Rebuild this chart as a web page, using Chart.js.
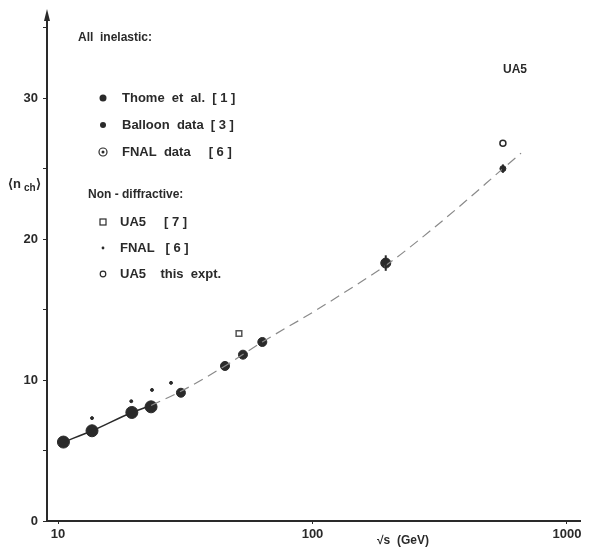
<!DOCTYPE html>
<html>
<head>
<meta charset="utf-8">
<script src="https://cdn.jsdelivr.net/npm/chart.js@4.4.0/dist/chart.umd.min.js"></script>
<style>
  html, body { margin: 0; padding: 0; background: #fff; }
  #wrap { width: 594px; height: 548px; position: relative; }
</style>
</head>
<body>
<div id="wrap"><canvas id="multChart" width="594" height="548"></canvas></div>
<script>
// sqrt(s) in GeV and mean charged multiplicity <n_ch>
const fnalEnergy = [10.5, 13.6, 19.5, 23.2];
const fnalMult = [5.6, 6.4, 7.7, 8.1];

const thomeEnergy = [30.4, 45.3, 53.3, 63.5];
const thomeMult = [9.1, 11.0, 11.8, 12.7];

const balloonEnergy = [194, 560];
const balloonMult = [18.3, 25.0];
const balloonErr = [0.55, 0.3];

const ua5IsrEnergy = [51.4];
const ua5IsrMult = [13.3];

const fnalNdEnergy = [13.6, 19.4, 23.4, 27.8];
const fnalNdMult = [7.3, 8.5, 9.3, 9.8];

const ua5Energy = [560];
const ua5Mult = [26.8];

// fitted curve
const fitSolidEnergy = [10.5, 13.6, 19.5, 23.2];
const fitSolidMult = [5.6, 6.4, 7.7, 8.2];
const fitDashEnergy = [23.2, 30.4, 45.3, 63.5, 100, 150, 200, 300, 400, 560, 660];
const fitDashMult = [8.2, 9.2, 11.0, 12.7, 14.8, 16.8, 18.3, 20.8, 22.7, 25.0, 26.1];

const xTickValues = [10, 100, 1000];
const yTickValues = [0, 10, 20, 30];

const ink = '#2a2a2a';
const font = '"Liberation Sans", Arial, sans-serif';

function pts(xs, ys) {
  return xs.map((x, i) => ({ x: x, y: ys[i] }));
}

const annotate = {
  id: 'annotate',
  afterDatasetsDraw(chart) {
    const ctx = chart.ctx;
    const xs = chart.scales.x, ys = chart.scales.y;
    ctx.save();

    // error bars
    ctx.strokeStyle = ink;
    ctx.lineWidth = 2;
    balloonEnergy.forEach((e, i) => {
      const px = xs.getPixelForValue(e);
      ctx.beginPath();
      ctx.moveTo(px, ys.getPixelForValue(balloonMult[i] - balloonErr[i]));
      ctx.lineTo(px, ys.getPixelForValue(balloonMult[i] + balloonErr[i]));
      ctx.stroke();
    });

    // arrow tip on y axis
    const ax = chart.chartArea.left;
    ctx.fillStyle = ink;
    ctx.beginPath();
    ctx.moveTo(ax, chart.chartArea.top - 6);
    ctx.lineTo(ax - 3, chart.chartArea.top + 6);
    ctx.lineTo(ax + 3, chart.chartArea.top + 6);
    ctx.closePath();
    ctx.fill();

    ctx.fillStyle = ink;
    ctx.textBaseline = 'middle';
    ctx.font = 'bold 12px ' + font;

    ctx.fillText('All  inelastic:', 78, 38);
    ctx.fillText('Non - diffractive:', 88, 195);
    ctx.fillText('UA5', 503, 70);

    ctx.font = 'bold 13px ' + font;
    ctx.fillText('Thome  et  al.  [ 1 ]', 122, 98);
    ctx.fillText('Balloon  data  [ 3 ]', 122, 125);
    ctx.fillText('FNAL  data     [ 6 ]', 122, 152);
    ctx.fillText('UA5     [ 7 ]', 120, 222);
    ctx.fillText('FNAL   [ 6 ]', 120, 248);
    ctx.fillText('UA5    this  expt.', 120, 274);

    // legend markers
    ctx.beginPath(); ctx.arc(103, 98, 3.5, 0, Math.PI * 2); ctx.fill();
    ctx.beginPath(); ctx.arc(103, 125, 3, 0, Math.PI * 2); ctx.fill();
    ctx.lineWidth = 1.2; ctx.strokeStyle = ink;
    ctx.beginPath(); ctx.arc(103, 152, 4, 0, Math.PI * 2); ctx.stroke();
    ctx.beginPath(); ctx.arc(103, 152, 1.5, 0, Math.PI * 2); ctx.fill();
    ctx.strokeRect(100, 219, 6, 6);
    ctx.beginPath(); ctx.arc(103, 248, 1.4, 0, Math.PI * 2); ctx.fill();
    ctx.beginPath(); ctx.arc(103, 274, 2.8, 0, Math.PI * 2); ctx.stroke();

    // y title <n_ch>
    ctx.font = 'bold 13px ' + font;
    ctx.fillText('\u27E8n', 8, 184);
    ctx.font = 'bold 10px ' + font;
    ctx.fillText('ch', 24, 188);
    ctx.font = 'bold 13px ' + font;
    ctx.fillText('\u27E9', 36, 184);

    // x title
    ctx.font = 'bold 12px ' + font;
    ctx.fillText('\u221As  (GeV)', 377, 541);

    ctx.restore();
  }
};

new Chart(document.getElementById('multChart'), {
  type: 'scatter',
  data: {
    datasets: [
      {
        label: 'fit',
        type: 'line',
        data: pts(fitSolidEnergy, fitSolidMult),
        borderColor: ink,
        borderWidth: 1.5,
        pointRadius: 0,
        cubicInterpolationMode: 'monotone'
      },
      {
        label: 'fit dashed',
        type: 'line',
        data: pts(fitDashEnergy, fitDashMult),
        borderColor: '#8a8a8a',
        borderWidth: 1.2,
        borderDash: [10, 6],
        pointRadius: 0,
        cubicInterpolationMode: 'monotone'
      },
      {
        label: 'FNAL data',
        data: pts(fnalEnergy, fnalMult),
        pointRadius: 6,
        pointBackgroundColor: ink,
        pointBorderColor: ink
      },
      {
        label: 'Thome et al.',
        data: pts(thomeEnergy, thomeMult),
        pointRadius: 4.5,
        pointBackgroundColor: ink,
        pointBorderColor: ink
      },
      {
        label: 'Balloon data',
        data: pts(balloonEnergy, balloonMult),
        pointRadius: [5, 3],
        pointBackgroundColor: ink,
        pointBorderColor: ink
      },
      {
        label: 'UA5 [7]',
        data: pts(ua5IsrEnergy, ua5IsrMult),
        pointStyle: 'rect',
        pointRadius: 4,
        pointBorderWidth: 1.5,
        pointBackgroundColor: '#fff',
        pointBorderColor: '#555'
      },
      {
        label: 'FNAL non-diffractive',
        data: pts(fnalNdEnergy, fnalNdMult),
        pointRadius: 1.5,
        pointBackgroundColor: ink,
        pointBorderColor: ink
      },
      {
        label: 'UA5 this expt.',
        data: pts(ua5Energy, ua5Mult),
        pointRadius: 3,
        pointBorderWidth: 1.5,
        pointBackgroundColor: '#fff',
        pointBorderColor: ink
      }
    ]
  },
  options: {
    responsive: false,
    animation: false,
    layout: { padding: { left: 0, right: 14, top: 15, bottom: 0 } },
    plugins: {
      legend: { display: false },
      tooltip: { enabled: false }
    },
    scales: {
      x: {
        type: 'logarithmic',
        min: 9.05,
        max: 1125,
        afterFit(scale) { scale.height = 27; },
        afterBuildTicks(scale) {
          scale.ticks = xTickValues.map(v => ({ value: v }));
        },
        border: { display: true, color: ink, width: 2 },
        grid: { drawOnChartArea: false, drawTicks: true, tickLength: 3, color: ink },
        ticks: {
          color: ink,
          padding: 3,
          maxRotation: 0,
          autoSkip: false,
          font: { family: font, size: 13, weight: 'bold' },
          callback: v => String(v)
        }
      },
      y: {
        min: 0,
        max: 35.9,
        afterFit(scale) { scale.width = 47; },
        afterBuildTicks(scale) {
          scale.ticks = [0, 5, 10, 15, 20, 25, 30, 35].map(v => ({ value: v }));
        },
        border: { display: true, color: ink, width: 2 },
        grid: { drawOnChartArea: false, drawTicks: true, tickLength: 4, color: ink },
        ticks: {
          color: ink,
          padding: 5,
          font: { family: font, size: 13, weight: 'bold' },
          callback: v => yTickValues.includes(v) ? String(v) : ''
        }
      }
    }
  },
  plugins: [annotate]
});
</script>
</body>
</html>
